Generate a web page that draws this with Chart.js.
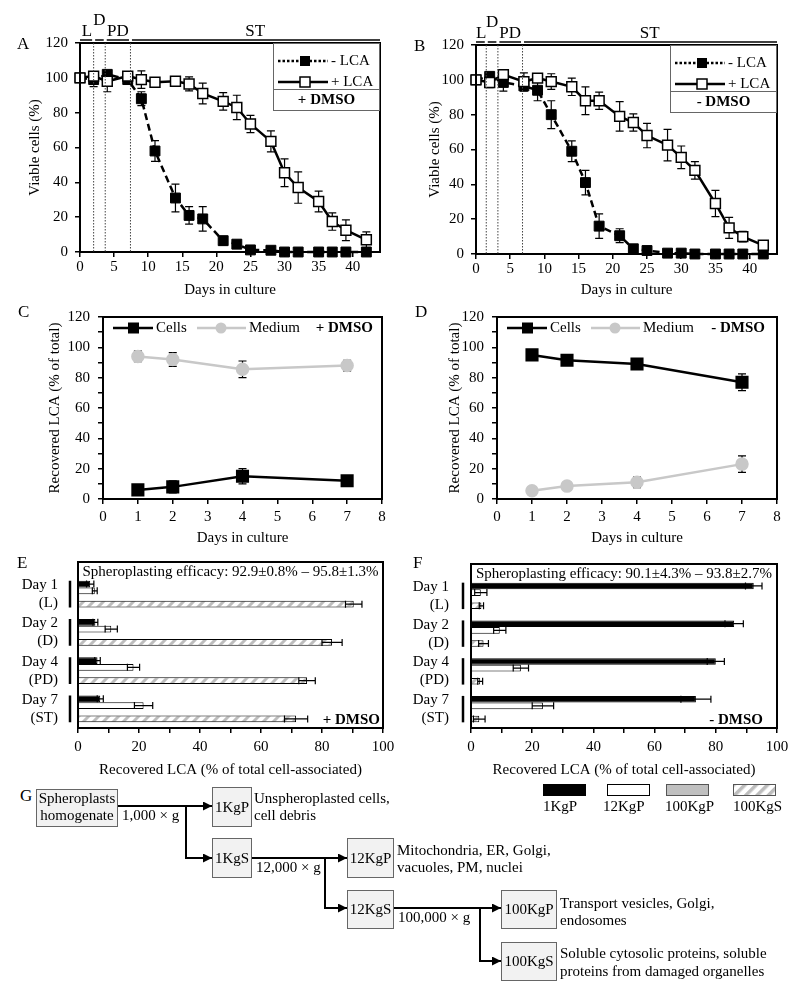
<!DOCTYPE html>
<html>
<head>
<meta charset="utf-8">
<script src="https://cdn.jsdelivr.net/npm/chart.js@4"></script>
<style>
body { margin: 0; background: #fff; font-family: 'Liberation Serif', 'Times New Roman', serif; }
#page { position: relative; width: 800px; height: 999px; overflow: hidden; }
canvas { position: absolute; }
.let { position: absolute; font-size: 17px; line-height: 1; transform: translateY(-50%); }
svg { position: absolute; left: 0; top: 0; pointer-events: none; }
</style>
</head>
<body>
<div id="page">
  <canvas id="cA" width="400" height="300" style="left:0;top:0"></canvas>
  <canvas id="cB" width="400" height="300" style="left:400px;top:0"></canvas>
  <canvas id="cC" width="400" height="250" style="left:0;top:300px"></canvas>
  <canvas id="cD" width="400" height="250" style="left:400px;top:300px"></canvas>
  <canvas id="cE" width="400" height="240" style="left:0;top:545px"></canvas>
  <canvas id="cF" width="400" height="240" style="left:400px;top:545px"></canvas>

  <div class="let" style="left:17px;top:43px">A</div>
  <div class="let" style="left:414px;top:45px">B</div>
  <div class="let" style="left:18px;top:311px">C</div>
  <div class="let" style="left:415px;top:311px">D</div>
  <div class="let" style="left:17px;top:562px">E</div>
  <div class="let" style="left:413px;top:562px">F</div>
  <div class="let" style="left:20px;top:795px">G</div>

  <svg width="800" height="999" font-family="'Liberation Serif', 'Times New Roman', serif" font-size="15">
    <defs>
      <marker id="ar" viewBox="0 0 10 10" refX="10" refY="5" markerWidth="9" markerHeight="9" markerUnits="userSpaceOnUse" orient="auto">
        <path d="M0,0 L10,5 L0,10 z" fill="#000"/>
      </marker>
      <pattern id="hp" width="8" height="8" patternUnits="userSpaceOnUse" patternTransform="rotate(45)">
        <rect width="8" height="8" fill="#fff"/><rect width="3.5" height="8" fill="#bdbdbd"/>
      </pattern>
    </defs>

    <!-- legend for E / F -->
    <rect x="543.5" y="784.5" width="42" height="11" fill="#000" stroke="#000"/>
    <rect x="607.5" y="784.5" width="42" height="11" fill="#fff" stroke="#000"/>
    <rect x="666.5" y="784.5" width="42" height="11" fill="#c0c0c0" stroke="#555"/>
    <rect x="733.5" y="784.5" width="42" height="11" fill="url(#hp)" stroke="#555"/>
    <text x="543" y="806" dominant-baseline="central">1KgP</text>
    <text x="603" y="806" dominant-baseline="central">12KgP</text>
    <text x="665" y="806" dominant-baseline="central">100KgP</text>
    <text x="733" y="806" dominant-baseline="central">100KgS</text>

    <!-- fractionation scheme -->
    <g fill="#f2f2f2" stroke="#666" stroke-width="1">
      <rect x="36.5" y="789.5" width="81" height="37"/>
      <rect x="212.5" y="787.5" width="39" height="39"/>
      <rect x="212.5" y="838.5" width="39" height="39"/>
      <rect x="347.5" y="838.5" width="46" height="39"/>
      <rect x="347.5" y="890.5" width="46" height="38"/>
      <rect x="501.5" y="890.5" width="55" height="38"/>
      <rect x="501.5" y="942.5" width="55" height="38"/>
    </g>
    <g fill="none" stroke="#000" stroke-width="2" marker-end="url(#ar)">
      <polyline points="118,806 212,806"/>
      <polyline points="186,806 186,858 212,858"/>
      <polyline points="252,858 347,858"/>
      <polyline points="325,858 325,908 347,908"/>
      <polyline points="394,908 501,908"/>
      <polyline points="480,908 480,961 501,961"/>
    </g>
    <g dominant-baseline="central" text-anchor="middle">
      <text x="77" y="798">Spheroplasts</text>
      <text x="77" y="815">homogenate</text>
      <text x="232" y="807">1KgP</text>
      <text x="232" y="858">1KgS</text>
      <text x="370.5" y="858">12KgP</text>
      <text x="370.5" y="909">12KgS</text>
      <text x="529" y="909">100KgP</text>
      <text x="529" y="961">100KgS</text>
    </g>
    <g dominant-baseline="central">
      <text x="122" y="815">1,000 × g</text>
      <text x="256" y="867">12,000 × g</text>
      <text x="398" y="917">100,000 × g</text>
      <text x="254" y="798">Unspheroplasted cells,</text>
      <text x="254" y="815">cell debris</text>
      <text x="397" y="850">Mitochondria, ER, Golgi,</text>
      <text x="397" y="867">vacuoles, PM, nuclei</text>
      <text x="560" y="903">Transport vesicles, Golgi,</text>
      <text x="560" y="920">endosomes</text>
      <text x="560" y="953">Soluble cytosolic proteins, soluble</text>
      <text x="560" y="971">proteins from damaged organelles</text>
    </g>
  </svg>
</div>

<script>
// ---- A / B : viability over time ----
const daysAB = [0, 2, 4, 7, 9, 11, 14, 16, 18, 21, 23, 25, 28, 30, 32, 35, 37, 39, 42];
const phaseNames = ['L', 'D', 'PD', 'ST'];
const phaseA = [2, 3.7, 7.4];
const phaseB = [1.5, 3.2, 6.8];
const aPlus     = [100, 101, 98, 101, 99, 97.5, 98, 96.5, 91, 86.5, 83, 73.5, 63.5, 45.5, 37, 29, 17.5, 12.5, 7];
const aPlusErr  = [0.5, 2, 6, 2, 5, 1, 1, 4, 6, 5, 7, 5, 6, 8, 9, 6, 5, 6, 4.5];
const aMinus    = [100, 99, 102, 99, 88, 58, 31, 21, 19, 6.5, 4.5, 1.2, 1, 0, 0, 0, 0, 0, 0];
const aMinusErr = [0, 4, 2, 2, 4, 6, 8, 5, 7, 2.5, 1, 0.5, 0.5, 0, 0, 0, 0, 0, 0];
const bPlus     = [100, 98.5, 103, 99, 101, 99, 96, 88, 88, 79, 75.5, 68, 62.5, 55.5, 48, 29, 15, 10, 5];
const bPlusErr  = [0, 3, 2, 5, 2, 4.5, 5, 8, 5, 8.5, 5, 7, 9, 6.5, 5, 7.5, 6, 3, 2];
const bMinus    = [100, 102, 98.5, 96.5, 94, 80, 59, 41, 16, 10.5, 3, 2, 0.5, 0.5, 0, 0, 0, 0, 0];
const bMinusErr = [0, 2, 5, 3, 6, 8, 6, 7, 7, 4, 1, 1, 0, 0, 0, 0, 0, 0, 0];

// ---- C / D : LCA distribution cells vs medium ----
const daysCD = [1, 2, 4, 7];
const cCells     = [6, 8, 15, 12];
const cCellsErr  = [2.5, 4, 5, 3];
const cMedium    = [94, 92, 85.5, 88];
const cMediumErr = [3.5, 4.5, 5.5, 3.5];
const dCells     = [95, 91.5, 89, 77];
const dCellsErr  = [1, 1, 2, 5.5];
const dMedium    = [5.5, 8.5, 11, 23];
const dMediumErr = [0.5, 1, 3.5, 5.5];

// ---- E / F : subcellular fractions ----
const fracDays = [['Day 1', '(L)'], ['Day 2', '(D)'], ['Day 4', '(PD)'], ['Day 7', '(ST)']];
const fracNames = ['1KgP', '12KgP', '100KgP', '100KgS'];
const e1KgP   = [4, 5.7, 6.4, 7.3],      e1KgPErr   = [1.2, 0.8, 0.9, 1];
const e12KgP  = [5.5, 10.9, 18.2, 21.5], e12KgPErr  = [0.8, 2, 2, 3];
const e100KgP = [0.4, 0.4, 0.4, 0.4],    e100KgPErr = [0, 0, 0, 0];
const e100KgS = [90.4, 83.3, 75.1, 71.5], e100KgSErr = [2.7, 3.3, 2.7, 3.8];
const f1KgP   = [92.4, 86, 80, 73.5],    f1KgPErr   = [2.7, 3, 2.8, 4.9];
const f12KgP  = [3.2, 9.4, 16.3, 23.5],  f12KgPErr  = [2, 2, 2.5, 3.5];
const f100KgP = [0.3, 0.3, 0.3, 0.3],    f100KgPErr = [0, 0, 0, 0];
const f100KgS = [3.4, 4.1, 3, 2.7],      f100KgSErr = [0.7, 1.6, 0.8, 1.9];

const FONT = "'Liberation Serif', 'Times New Roman', serif";
Chart.defaults.font.family = FONT;
Chart.defaults.font.size = 15;
Chart.defaults.color = '#000';
Chart.defaults.animation = false;
Chart.defaults.plugins.legend.display = false;
Chart.defaults.plugins.tooltip.enabled = false;

const pts = (xs, ys) => xs.map((x, i) => ({x, y: ys[i]}));

// box round the plot area
const framePlugin = {
  id: 'frame',
  afterDraw(chart, args, opts) {
    const a = chart.chartArea, ctx = chart.ctx;
    const top = a.top - (opts.extraTop || 0);
    ctx.save();
    ctx.strokeStyle = '#000';
    ctx.lineWidth = 2;
    ctx.strokeRect(a.left, top, a.right - a.left, a.bottom - top);
    ctx.restore();
  }
};

function drawErr(chart, o) {
  const ctx = chart.ctx;
  ctx.save();
  ctx.strokeStyle = '#000';
  ctx.lineWidth = 1.2;
  const cap = o.cap || 4;
  chart.data.datasets.forEach((ds, di) => {
    if (!ds.errors) return;
    chart.getDatasetMeta(di).data.forEach((el, i) => {
      const e = ds.errors[i];
      if (!e) return;
      const d = ds.data[i];
      const v = typeof d === 'object' ? d.y : d;
      ctx.beginPath();
      if (o.horizontal) {
        const sx = chart.scales.x;
        const x1 = sx.getPixelForValue(v - e), x2 = sx.getPixelForValue(v + e);
        ctx.moveTo(x1, el.y); ctx.lineTo(x2, el.y);
        ctx.moveTo(x1, el.y - cap); ctx.lineTo(x1, el.y + cap);
        ctx.moveTo(x2, el.y - cap); ctx.lineTo(x2, el.y + cap);
      } else {
        const sy = chart.scales.y;
        const y1 = sy.getPixelForValue(v - e), y2 = sy.getPixelForValue(v + e);
        ctx.moveTo(el.x, y1); ctx.lineTo(el.x, y2);
        ctx.moveTo(el.x - cap, y1); ctx.lineTo(el.x + cap, y1);
        ctx.moveTo(el.x - cap, y2); ctx.lineTo(el.x + cap, y2);
      }
      ctx.stroke();
    });
  });
  ctx.restore();
}

const errPlugin = {
  id: 'errbars',
  beforeDatasetsDraw(chart, args, o) { if (o.phase !== 'after') drawErr(chart, o); },
  afterDatasetsDraw(chart, args, o) { if (o.phase === 'after') drawErr(chart, o); }
};
Chart.register(framePlugin, errPlugin);

function linAxis(o) {
  const ax = {
    type: 'linear', min: o.min, max: o.max,
    ticks: { stepSize: o.step, includeBounds: false, autoSkip: false, maxRotation: 0, padding: o.pad },
    grid: { drawOnChartArea: false, color: '#000', lineWidth: 1.5, tickLength: 5 },
    border: { display: false },
    title: { display: !!o.title, text: o.title, padding: o.tpad || {top: 4, bottom: 0} },
    afterFit: s => { if (s.isHorizontal()) s.height = o.size; else s.width = o.size; }
  };
  if (o.every) ax.ticks.callback = v => (v % o.every === 0 ? v : '');
  return ax;
}

// ---- A / B ----
function phasePlugin(bounds) {
  return {
    id: 'phases',
    afterDraw(chart) {
      const a = chart.chartArea, sx = chart.scales.x, ctx = chart.ctx;
      const xs = bounds.map(b => sx.getPixelForValue(b));
      ctx.save();
      ctx.strokeStyle = '#444';
      ctx.lineWidth = 1;
      ctx.setLineDash([1.5, 1.5]);
      xs.forEach(x => { ctx.beginPath(); ctx.moveTo(x, a.top); ctx.lineTo(x, a.bottom); ctx.stroke(); });
      ctx.setLineDash([]);
      const edges = [a.left, ...xs, a.right];
      ctx.strokeStyle = '#000';
      ctx.lineWidth = 1.5;
      for (let i = 0; i < edges.length - 1; i++) {
        ctx.beginPath();
        ctx.moveTo(edges[i] + (i ? 1.5 : 0), a.top - 3);
        ctx.lineTo(edges[i + 1] - (i < edges.length - 2 ? 1.5 : 0), a.top - 3);
        ctx.stroke();
      }
      ctx.fillStyle = '#000';
      ctx.font = '17px ' + FONT;
      ctx.textAlign = 'center';
      ctx.textBaseline = 'middle';
      phaseNames.forEach((n, i) => {
        ctx.fillText(n, (edges[i] + edges[i + 1]) / 2, i === 1 ? a.top - 22 : a.top - 11);
      });
      ctx.restore();
    }
  };
}

function viabLegend(tag) {
  return {
    id: 'vlegend',
    afterDraw(chart) {
      const a = chart.chartArea, ctx = chart.ctx;
      const W = 107, H = 67, L = a.right - W, T = a.top;
      ctx.save();
      ctx.fillStyle = '#fff';
      ctx.fillRect(L, T + 1, W - 1, H);
      ctx.strokeStyle = '#666';
      ctx.lineWidth = 1;
      ctx.strokeRect(L + 0.5, T + 0.5, W - 1, H);
      ctx.beginPath(); ctx.moveTo(L, T + 46.5); ctx.lineTo(a.right, T + 46.5); ctx.stroke();
      ctx.strokeStyle = '#000';
      ctx.lineWidth = 2.5;
      ctx.setLineDash([2.5, 2]);
      ctx.beginPath(); ctx.moveTo(L + 5, T + 18); ctx.lineTo(L + 55, T + 18); ctx.stroke();
      ctx.setLineDash([]);
      ctx.beginPath(); ctx.moveTo(L + 5, T + 39); ctx.lineTo(L + 55, T + 39); ctx.stroke();
      ctx.fillStyle = '#000';
      ctx.fillRect(L + 27, T + 13, 10, 10);
      ctx.fillStyle = '#fff';
      ctx.lineWidth = 1.5;
      ctx.fillRect(L + 27, T + 34, 10, 10);
      ctx.strokeRect(L + 27, T + 34, 10, 10);
      ctx.fillStyle = '#000';
      ctx.font = '15px ' + FONT;
      ctx.textBaseline = 'middle';
      ctx.fillText('- LCA', L + 58, T + 18);
      ctx.fillText('+ LCA', L + 58, T + 39);
      ctx.font = 'bold 15px ' + FONT;
      ctx.textAlign = 'center';
      ctx.fillText(tag, L + W / 2, T + 57);
      ctx.restore();
    }
  };
}

function viabChart(id, plus, plusErr, minus, minusErr, bounds, tag, lay) {
  new Chart(document.getElementById(id), {
    type: 'line',
    data: {
      datasets: [
        { label: '+ LCA', data: pts(daysAB, plus), errors: plusErr, borderColor: '#000', borderWidth: 2.5,
          pointStyle: 'rect', pointRadius: 7, pointBackgroundColor: '#fff', pointBorderColor: '#000',
          pointBorderWidth: 1.5, clip: false, fill: false },
        { label: '- LCA', data: pts(daysAB, minus), errors: minusErr, borderColor: '#000', borderWidth: 2.5,
          borderDash: [7, 4], pointStyle: 'rect', pointRadius: 7, pointBackgroundColor: '#000',
          pointBorderColor: '#000', pointBorderWidth: 1, clip: false, fill: false }
      ]
    },
    options: {
      responsive: false, devicePixelRatio: 1,
      layout: { padding: { left: 22, top: lay.top, right: lay.right, bottom: 0 } },
      scales: {
        x: linAxis({ min: 0, max: 44, step: 5, title: 'Days in culture', size: lay.xh, pad: 1, tpad: {top: 0, bottom: lay.tb} }),
        y: linAxis({ min: 0, max: 120, step: 20, title: 'Viable cells (%)', size: lay.yw, pad: 7 })
      },
      plugins: { errbars: { phase: 'before', cap: 4 } }
    },
    plugins: [phasePlugin(bounds), viabLegend(tag)]
  });
}

viabChart('cA', aPlus, aPlusErr, aMinus, aMinusErr, phaseA, '+ DMSO', { top: 43, right: 20, xh: 48, yw: 58, tb: 1 });
viabChart('cB', bPlus, bPlusErr, bMinus, bMinusErr, phaseB, '- DMSO', { top: 45, right: 23, xh: 46, yw: 54, tb: 1 });

// ---- C / D ----
function recLegend(tag, tagRight) {
  return {
    id: 'rlegend',
    afterDraw(chart) {
      const a = chart.chartArea, ctx = chart.ctx, y = a.top + 11, L = a.left;
      ctx.save();
      ctx.lineWidth = 2.5;
      ctx.strokeStyle = '#000';
      ctx.beginPath(); ctx.moveTo(L + 10, y); ctx.lineTo(L + 50, y); ctx.stroke();
      ctx.fillStyle = '#000';
      ctx.fillRect(L + 25, y - 5.5, 11, 11);
      ctx.strokeStyle = '#c8c8c8';
      ctx.beginPath(); ctx.moveTo(L + 94, y); ctx.lineTo(L + 143, y); ctx.stroke();
      ctx.fillStyle = '#c8c8c8';
      ctx.beginPath(); ctx.arc(L + 118, y, 5.5, 0, Math.PI * 2); ctx.fill();
      ctx.fillStyle = '#000';
      ctx.font = '15px ' + FONT;
      ctx.textBaseline = 'middle';
      ctx.fillText('Cells', L + 53, y);
      ctx.fillText('Medium', L + 146, y);
      ctx.font = 'bold 15px ' + FONT;
      ctx.textAlign = 'right';
      ctx.fillText(tag, a.right - tagRight, y);
      ctx.restore();
    }
  };
}

function recChart(id, cells, cellsErr, medium, mediumErr, tag, lay) {
  new Chart(document.getElementById(id), {
    type: 'line',
    data: {
      datasets: [
        { label: 'Cells', data: pts(daysCD, cells), errors: cellsErr, borderColor: '#000', borderWidth: 2.5,
          pointStyle: 'rect', pointRadius: 7.5, pointBackgroundColor: '#000', pointBorderColor: '#000',
          clip: false, fill: false },
        { label: 'Medium', data: pts(daysCD, medium), errors: mediumErr, borderColor: '#c8c8c8', borderWidth: 2.5,
          pointStyle: 'circle', pointRadius: 5.5, pointBackgroundColor: '#c8c8c8', pointBorderColor: '#c8c8c8',
          clip: false, fill: false }
      ]
    },
    options: {
      responsive: false, devicePixelRatio: 1,
      layout: { padding: { left: 42, top: 11, right: lay.right, bottom: 0 } },
      scales: {
        x: linAxis({ min: 0, max: 8, step: 1, title: 'Days in culture', size: 51, pad: 4, tpad: {top: 0, bottom: 3} }),
        y: linAxis({ min: 0, max: 120, step: 10, every: 20, title: 'Recovered LCA (% of total)', size: lay.yw, pad: 8 })
      },
      plugins: { errbars: { phase: 'before', cap: 4 } }
    },
    plugins: [recLegend(tag, lay.tagRight)]
  });
}

recChart('cC', cCells, cCellsErr, cMedium, cMediumErr, '+ DMSO', { right: 18, yw: 61, tagRight: 9 });
recChart('cD', dCells, dCellsErr, dMedium, dMediumErr, '- DMSO', { right: 23, yw: 55, tagRight: 12 });

// ---- E / F ----
function hatch() {
  const c = document.createElement('canvas');
  c.width = 10; c.height = 10;
  const g = c.getContext('2d');
  g.fillStyle = '#fff';
  g.fillRect(0, 0, 10, 10);
  g.strokeStyle = '#bdbdbd';
  g.lineWidth = 3;
  g.beginPath();
  g.moveTo(-5, 15); g.lineTo(15, -5);
  g.moveTo(-5, 5); g.lineTo(5, -5);
  g.moveTo(5, 15); g.lineTo(15, 5);
  g.stroke();
  return g.createPattern(c, 'repeat');
}
const hatchFill = hatch();

function barDecor(title, tag, tagRight) {
  return {
    id: 'bdecor',
    afterDraw(chart) {
      const a = chart.chartArea, ctx = chart.ctx;
      const m0 = chart.getDatasetMeta(0), m3 = chart.getDatasetMeta(3);
      ctx.save();
      ctx.strokeStyle = '#000';
      ctx.lineWidth = 2.5;
      m0.data.forEach((el, i) => {
        const last = m3.data[i];
        ctx.beginPath();
        ctx.moveTo(a.left - 8, el.y - el.height / 2);
        ctx.lineTo(a.left - 8, last.y + last.height / 2);
        ctx.stroke();
      });
      ctx.fillStyle = '#000';
      ctx.font = '15px ' + FONT;
      ctx.textAlign = 'center';
      ctx.textBaseline = 'middle';
      ctx.fillText(title, (a.left + a.right) / 2, a.top - 3);
      ctx.font = 'bold 15px ' + FONT;
      ctx.textAlign = 'right';
      ctx.fillText(tag, a.right - tagRight, a.bottom - 8);
      ctx.restore();
    }
  };
}

function fracChart(id, series, errs, title, tag, lay) {
  const fills = ['#000', '#fff', '#c0c0c0', hatchFill];
  new Chart(document.getElementById(id), {
    type: 'bar',
    data: {
      labels: fracDays,
      datasets: series.map((s, k) => ({
        label: fracNames[k], data: s, errors: errs[k], backgroundColor: fills[k],
        borderColor: '#000', borderWidth: 1, categoryPercentage: 0.7, barPercentage: 1
      }))
    },
    options: {
      indexAxis: 'y',
      responsive: false, devicePixelRatio: 1,
      layout: { padding: { left: 0, top: 21, right: lay.right, bottom: 0 } },
      scales: {
        x: linAxis({ min: 0, max: 100, step: 10, every: 20, title: 'Recovered LCA (% of total cell-associated)',
                     size: 57, pad: 5, tpad: {top: 0, bottom: 6} }),
        y: { type: 'category', grid: { display: false }, border: { display: false },
             ticks: { padding: lay.tpad, autoSkip: false },
             afterFit: s => { s.width = lay.yw; } }
      },
      plugins: { frame: { extraTop: 13 }, errbars: { phase: 'after', horizontal: true, cap: 3.5 } }
    },
    plugins: [barDecor(title, tag, lay.tagRight)]
  });
}

fracChart('cE', [e1KgP, e12KgP, e100KgP, e100KgS], [e1KgPErr, e12KgPErr, e100KgPErr, e100KgSErr],
  'Spheroplasting efficacy: 92.9±0.8% – 95.8±1.3%', '+ DMSO', { right: 17, yw: 78, tpad: 12, tagRight: 3 });
fracChart('cF', [f1KgP, f12KgP, f100KgP, f100KgS], [f1KgPErr, f12KgPErr, f100KgPErr, f100KgSErr],
  'Spheroplasting efficacy: 90.1±4.3% – 93.8±2.7%', '- DMSO', { right: 23, yw: 71, tpad: 14, tagRight: 14 });
</script>
</body>
</html>
